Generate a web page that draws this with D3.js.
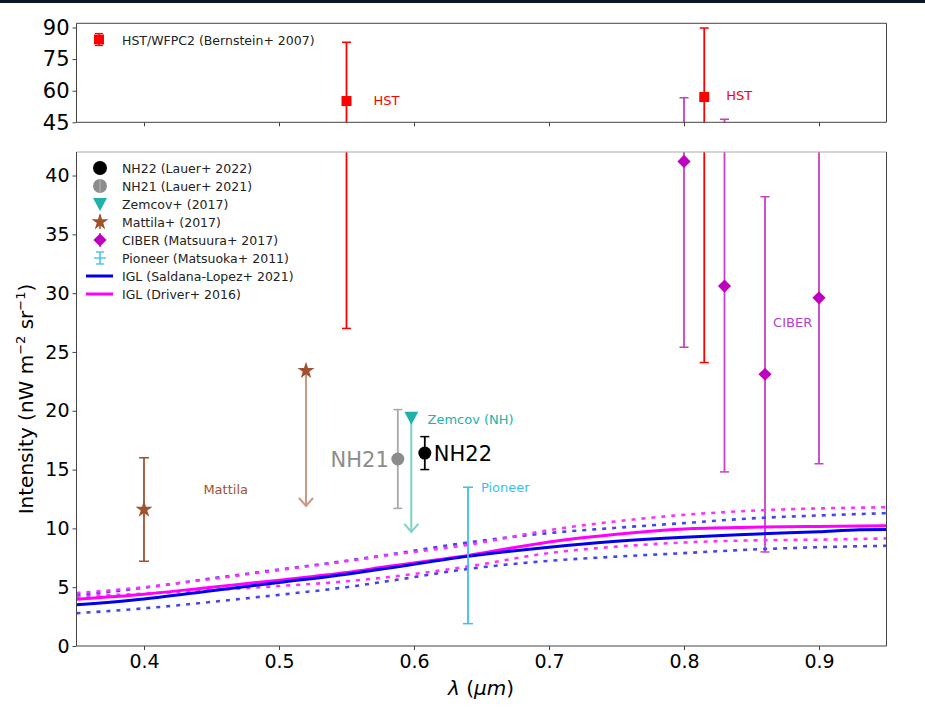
<!DOCTYPE html>
<meta charset="utf-8">
<style>
  body { margin: 0; background: #fff; }
  text { font-family: "DejaVu Sans", sans-serif; }
</style>
<script src="https://d3js.org/d3.v7.min.js"></script>
<div id="chart"></div>
<script>
// ---- data ----
var hstX   = [0.55, 0.815];
var hstY   = [55.1, 57.0];
var hstLo  = [27.0, 24.1];
var hstHi  = [83.0, 89.8];

var ciberX  = [0.80, 0.83, 0.86, 0.90];
var ciberY  = [41.2, 30.6, 23.1, 29.6];
var ciberLo = [25.4, 14.8, 8.0, 15.5];
var ciberHi = [56.7, 46.4, 38.2, 44.0];

var mattilaX = [0.40], mattilaY = [11.6], mattilaLo = [7.2], mattilaHi = [16.0];
var mattilaLimX = 0.52, mattilaLimY = 23.4, mattilaLimEnd = 11.9;

var nh21 = {x: 0.588, y: 15.9, lo: 11.7, hi: 20.1};
var nh22 = {x: 0.608, y: 16.4, lo: 15.0, hi: 17.8};
var zemcov = {x: 0.598, y: 19.4, end: 9.7};
var pioneer = {x: 0.640, lo: 1.9, hi: 13.5};

var iglX    = [0.35, 0.40, 0.45, 0.50, 0.55, 0.58, 0.64, 0.70, 0.75, 0.80, 0.85, 0.90, 0.93, 0.95];
var slSolid = [3.50, 4.00, 4.70, 5.40, 6.10, 6.60, 7.62, 8.40, 8.90, 9.25, 9.50, 9.72, 9.88, 9.90];
var slUpper = [4.30, 4.95, 5.75, 6.50, 7.25, 7.75, 8.80, 9.60, 10.05, 10.45, 10.85, 11.10, 11.22, 11.30];
var slLower = [2.79, 3.20, 3.75, 4.35, 5.00, 5.50, 6.55, 7.24, 7.60, 7.90, 8.20, 8.40, 8.48, 8.52];
var drSolid = [3.98, 4.40, 5.00, 5.60, 6.25, 6.75, 7.70, 8.85, 9.50, 9.95, 10.10, 10.17, 10.20, 10.23];
var drUpper = [4.50, 5.00, 5.70, 6.45, 7.20, 7.70, 8.60, 9.85, 10.60, 11.15, 11.50, 11.70, 11.76, 11.80];
var drLower = [4.20, 4.45, 4.75, 5.10, 5.50, 5.85, 6.76, 7.90, 8.45, 8.80, 8.98, 9.04, 9.10, 9.15];

var xTicks = [0.4, 0.5, 0.6, 0.7, 0.8, 0.9];
var yTopTicks = [45, 60, 75, 90];
var yBotTicks = [0, 5, 10, 15, 20, 25, 30, 35, 40];

var legendLabels = ["NH22 (Lauer+ 2022)", "NH21 (Lauer+ 2021)", "Zemcov+ (2017)", "Mattila+ (2017)",
  "CIBER (Matsuura+ 2017)", "Pioneer (Matsuoka+ 2011)", "IGL (Saldana-Lopez+ 2021)", "IGL (Driver+ 2016)"];

// ---- layout ----
var width = 925, height = 711;
var svg = d3.select("#chart").append("svg")
  .attr("width", width).attr("height", height);

svg.append("rect").attr("x", 0).attr("y", 0).attr("width", width).attr("height", 3).attr("fill", "#0b1628");

var x = d3.scaleLinear().domain([0.35, 0.95]).range([76.5, 886.5]);
var yTop = d3.scaleLinear().domain([45, 92]).range([122.3, 23.3]);
var yBot = d3.scaleLinear().domain([0, 42]).range([646, 152]);

var red = "#ff0000", ciberC = "#c000c0", ciberL = "#c83fc8", sienna = "#a0522d";

var defs = svg.append("defs");
defs.append("clipPath").attr("id", "clipTop").append("rect")
  .attr("x", 76.5).attr("y", 23.3).attr("width", 810).attr("height", 99);
defs.append("clipPath").attr("id", "clipBot").append("rect")
  .attr("x", 76.5).attr("y", 152).attr("width", 810).attr("height", 494);

function errbar(g, y, xv, lo, hi, color, cap) {
  g.append("line").attr("x1", x(xv)).attr("x2", x(xv)).attr("y1", y(lo)).attr("y2", y(hi))
    .attr("stroke", color).attr("stroke-width", 1.8);
  [lo, hi].forEach(function(v) {
    g.append("line").attr("x1", x(xv) - cap).attr("x2", x(xv) + cap).attr("y1", y(v)).attr("y2", y(v))
      .attr("stroke", color).attr("stroke-width", 1.5);
  });
}

function drawPanel(y, clipId) {
  var g = svg.append("g").attr("clip-path", "url(#" + clipId + ")");
  // HST
  hstX.forEach(function(xv, i) {
    errbar(g, y, xv, hstLo[i], hstHi[i], red, 4.5);
    g.append("rect").attr("x", x(xv) - 5).attr("y", y(hstY[i]) - 5).attr("width", 10).attr("height", 10).attr("fill", red);
  });
  // CIBER
  ciberX.forEach(function(xv, i) {
    errbar(g, y, xv, ciberLo[i], ciberHi[i], ciberL, 4.5);
    g.append("path").attr("d", d3.symbol(d3.symbolDiamond2, 110)())
      .attr("transform", "translate(" + x(xv) + "," + y(ciberY[i]) + ")")
      .attr("fill", ciberC);
  });
  return g;
}

var gTop = drawPanel(yTop, "clipTop");
var gBot = drawPanel(yBot, "clipBot");

// IGL curves
var line = d3.line().x(function(d) { return x(d[0]); }).y(function(d) { return yBot(d[1]); }).curve(d3.curveMonotoneX);
function zipX(arr) { return iglX.map(function(v, i) { return [v, arr[i]]; }); }
[[slUpper, "#4545f0"], [slLower, "#4545f0"], [drUpper, "#ff30ff"], [drLower, "#ff30ff"]].forEach(function(s) {
  gBot.append("path").attr("d", line(zipX(s[0]))).attr("fill", "none")
    .attr("stroke", s[1]).attr("stroke-width", 2.6).attr("stroke-dasharray", "4,6");
});
gBot.append("path").attr("d", line(zipX(drSolid))).attr("fill", "none").attr("stroke", "#ff00ff").attr("stroke-width", 3);
gBot.append("path").attr("d", line(zipX(slSolid))).attr("fill", "none").attr("stroke", "#0000ee").attr("stroke-width", 3);

// Pioneer
errbar(gBot, yBot, pioneer.x, pioneer.lo, pioneer.hi, "#3cbff0", 5);

// Mattila
mattilaX.forEach(function(xv, i) {
  errbar(gBot, yBot, xv, mattilaLo[i], mattilaHi[i], sienna, 5);
  gBot.append("path").attr("d", d3.symbol(d3.symbolStar, 90)())
    .attr("transform", "translate(" + x(xv) + "," + yBot(mattilaY[i]) + ")").attr("fill", sienna);
});
function arrowDown(g, xv, y0, y1, color) {
  g.append("line").attr("x1", x(xv)).attr("x2", x(xv)).attr("y1", yBot(y0)).attr("y2", yBot(y1))
    .attr("stroke", color).attr("stroke-width", 2);
  g.append("path").attr("d", "M" + (x(xv) - 7) + "," + (yBot(y1) - 8) + "L" + x(xv) + "," + yBot(y1) + "L" + (x(xv) + 7) + "," + (yBot(y1) - 8))
    .attr("fill", "none").attr("stroke", color).attr("stroke-width", 2);
}
arrowDown(gBot, mattilaLimX, mattilaLimY, mattilaLimEnd, "#c99a7f");
gBot.append("path").attr("d", d3.symbol(d3.symbolStar, 90)())
  .attr("transform", "translate(" + x(mattilaLimX) + "," + yBot(mattilaLimY) + ")").attr("fill", sienna);

// NH21
errbar(gBot, yBot, nh21.x, nh21.lo, nh21.hi, "#a8a8a8", 4.5);
gBot.append("circle").attr("cx", x(nh21.x)).attr("cy", yBot(nh21.y)).attr("r", 6.5).attr("fill", "#8c8c8c");
// Zemcov
arrowDown(gBot, zemcov.x, zemcov.y, zemcov.end, "#78d4ca");
gBot.append("path").attr("d", "M" + (x(zemcov.x) - 7) + "," + (yBot(zemcov.y) - 6) + "L" + (x(zemcov.x) + 7) + "," + (yBot(zemcov.y) - 6) + "L" + x(zemcov.x) + "," + (yBot(zemcov.y) + 7) + "Z")
  .attr("fill", "#20b2aa");
// NH22
errbar(gBot, yBot, nh22.x, nh22.lo, nh22.hi, "#000", 4.5);
gBot.append("circle").attr("cx", x(nh22.x)).attr("cy", yBot(nh22.y)).attr("r", 6.5).attr("fill", "#000");

// text annotations
function label(txt, xp, yp, color, size, anchor) {
  svg.append("text").attr("x", xp).attr("y", yp).attr("fill", color).attr("font-size", size)
    .attr("text-anchor", anchor || "start").text(txt);
}
label("HST", x(0.55) + 27, yTop(55.1) + 4, red, 13);
label("HST", x(0.815) + 22, yTop(57) + 3, red, 13);
label("CIBER", x(0.866), yBot(27.5) + 4, "#b33fcc", 13);
label("Mattila", x(0.444), yBot(13.2) + 3, sienna, 13);
label("Zemcov (NH)", x(0.61), yBot(19.2) + 4, "#20b2aa", 13);
label("Pioneer", x(0.6496), yBot(13.5) + 5, "#3cbff0", 13);
label("NH21", x(nh21.x) - 9, yBot(nh21.y) + 8, "#8c8c8c", 21, "end");
label("NH22", x(nh22.x) + 9, yBot(nh22.y) + 8, "#000", 21);

// axes frames
function frame(y0, y1, topColor) {
  svg.append("line").attr("x1", 76.5).attr("x2", 886.5).attr("y1", y0).attr("y2", y0).attr("stroke", topColor);
  svg.append("line").attr("x1", 76.5).attr("x2", 886.5).attr("y1", y1).attr("y2", y1).attr("stroke", "#444");
  svg.append("line").attr("x1", 76.5).attr("x2", 76.5).attr("y1", y0).attr("y2", y1).attr("stroke", "#444");
  svg.append("line").attr("x1", 886.5).attr("x2", 886.5).attr("y1", y0).attr("y2", y1).attr("stroke", "#444");
}
frame(23.3, 122.3, "#444");
frame(152, 646, "#aaa");

function styleAxis(g, size) {
  g.select(".domain").remove();
  g.selectAll(".tick line").attr("stroke", "#444");
  g.selectAll(".tick text").attr("fill", "#000").attr("font-size", size).attr("font-family", "DejaVu Sans, sans-serif");
}
var axTop = svg.append("g").attr("transform", "translate(76.5,0)")
  .call(d3.axisLeft(yTop).tickValues(yTopTicks).tickSize(4).tickPadding(3));
styleAxis(axTop, 21);
var axTopX = svg.append("g").attr("transform", "translate(0,122.3)")
  .call(d3.axisBottom(x).tickValues(xTicks).tickSize(4).tickFormat(""));
styleAxis(axTopX, 18);
var axBot = svg.append("g").attr("transform", "translate(76.5,0)")
  .call(d3.axisLeft(yBot).tickValues(yBotTicks).tickSize(4).tickPadding(3));
styleAxis(axBot, 19);
var axBotX = svg.append("g").attr("transform", "translate(0,646)")
  .call(d3.axisBottom(x).tickValues(xTicks).tickSize(4).tickPadding(5).tickFormat(d3.format(".1f")));
styleAxis(axBotX, 19);

// axis titles
var yl = svg.append("text").attr("transform", "translate(33,399) rotate(-90)")
  .attr("text-anchor", "middle").attr("font-size", 20).attr("fill", "#000");
yl.append("tspan").text("Intensity (nW m");
yl.append("tspan").attr("font-size", 13).attr("dy", -8).text("\u22122");
yl.append("tspan").attr("dy", 8).text(" sr");
yl.append("tspan").attr("font-size", 13).attr("dy", -8).text("\u22121");
yl.append("tspan").attr("dy", 8).text(")");

var xl = svg.append("text").attr("x", 481).attr("y", 695).attr("text-anchor", "middle").attr("font-size", 20).attr("fill", "#000");
xl.append("tspan").attr("font-style", "italic").text("\u03bb");
xl.append("tspan").text(" (");
xl.append("tspan").attr("font-style", "italic").text("\u03bcm");
xl.append("tspan").text(")");

// top legend
var lgT = svg.append("g");
lgT.append("line").attr("x1", 99).attr("x2", 99).attr("y1", 33.5).attr("y2", 45.5).attr("stroke", red).attr("stroke-width", 1.5);
[33.5, 45.5].forEach(function(v) {
  lgT.append("line").attr("x1", 95).attr("x2", 103).attr("y1", v).attr("y2", v).attr("stroke", red).attr("stroke-width", 1.2);
});
lgT.append("rect").attr("x", 94).attr("y", 34.5).attr("width", 10).attr("height", 10).attr("fill", red);
lgT.append("text").attr("x", 122).attr("y", 44.5).attr("font-size", 12.5).attr("fill", "#222").text("HST/WFPC2 (Bernstein+ 2007)");

// bottom legend
var lg = svg.append("g");
legendLabels.forEach(function(t, i) {
  var cy = 168 + i * 18;
  var cx = 100;
  if (i === 0) lg.append("circle").attr("cx", cx).attr("cy", cy).attr("r", 7).attr("fill", "#000");
  if (i === 1) {
    lg.append("circle").attr("cx", cx).attr("cy", cy).attr("r", 7).attr("fill", "#8c8c8c");
    lg.append("line").attr("x1", cx).attr("x2", cx).attr("y1", cy - 7).attr("y2", cy + 7).attr("stroke", "#a8a8a8").attr("stroke-width", 1.5);
  }
  if (i === 2) lg.append("path").attr("d", "M" + (cx - 7) + "," + (cy - 6) + "L" + (cx + 7) + "," + (cy - 6) + "L" + cx + "," + (cy + 7) + "Z").attr("fill", "#20b2aa");
  if (i === 3) {
    lg.append("line").attr("x1", cx).attr("x2", cx).attr("y1", cy - 7).attr("y2", cy + 7).attr("stroke", sienna).attr("stroke-width", 1.5);
    lg.append("path").attr("d", d3.symbol(d3.symbolStar, 90)()).attr("transform", "translate(" + cx + "," + cy + ")").attr("fill", sienna);
  }
  if (i === 4) {
    lg.append("line").attr("x1", cx).attr("x2", cx).attr("y1", cy - 7).attr("y2", cy + 7).attr("stroke", ciberL).attr("stroke-width", 1.5);
    lg.append("path").attr("d", d3.symbol(d3.symbolDiamond2, 110)()).attr("transform", "translate(" + cx + "," + cy + ")").attr("fill", ciberC);
  }
  if (i === 5) {
    lg.append("line").attr("x1", cx).attr("x2", cx).attr("y1", cy - 6).attr("y2", cy + 6).attr("stroke", "#3cbff0").attr("stroke-width", 1.5);
    [cy - 6, cy, cy + 6].forEach(function(v, k) {
      lg.append("line").attr("x1", cx - (k === 1 ? 6 : 4)).attr("x2", cx + (k === 1 ? 6 : 4)).attr("y1", v).attr("y2", v).attr("stroke", "#3cbff0").attr("stroke-width", 1.3);
    });
  }
  if (i === 6) lg.append("line").attr("x1", 86).attr("x2", 113).attr("y1", cy).attr("y2", cy).attr("stroke", "#0000ee").attr("stroke-width", 3);
  if (i === 7) lg.append("line").attr("x1", 86).attr("x2", 113).attr("y1", cy).attr("y2", cy).attr("stroke", "#ff00ff").attr("stroke-width", 3);
  lg.append("text").attr("x", 122).attr("y", cy + 4.5).attr("font-size", 12.5).attr("fill", "#222").text(t);
});
</script>
